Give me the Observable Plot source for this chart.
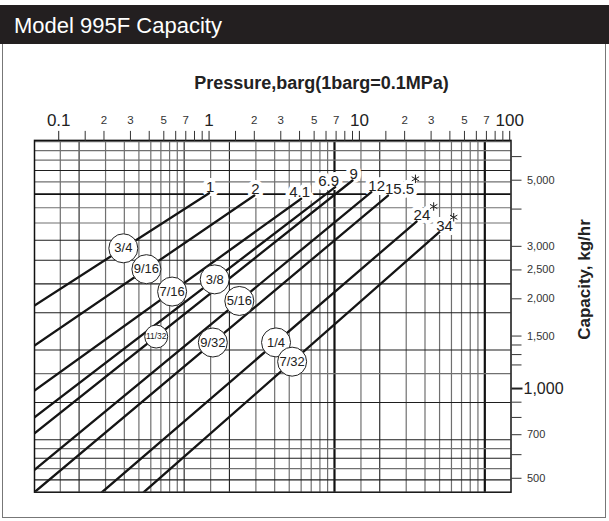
<!DOCTYPE html>
<html><head><meta charset="utf-8">
<script src="https://cdn.jsdelivr.net/npm/d3@7"></script>
<script src="https://cdn.jsdelivr.net/npm/@observablehq/plot@0.6"></script>
<style>
body{margin:0;background:#fff;font-family:"Liberation Sans",Arial,sans-serif;}
#title{position:absolute;left:0;top:5px;width:609px;height:39px;background:#231f20;color:#fff;font-size:22px;line-height:39px;padding-left:14px;padding-top:1px;box-sizing:border-box;}
#box{position:absolute;left:2px;top:44px;width:604px;height:474px;border:1px solid #777;border-top:none;box-sizing:border-box;}
#chart{position:absolute;left:0;top:44px;}
</style></head><body>
<div id="title">Model 995F Capacity</div>
<div id="box"></div>
<div id="chart"></div>
<script>
// ---- data ----
const sizes  = ["3/4","9/16","7/16","3/8","11/32","5/16","9/32","1/4","7/32"];
const maxP   = [1, 2, 4.1, 6.9, 9, 12, 15.5, 24, 34];           // barg, upper end of each line
const maxLabels = ["1","2","4.1","6.9","9","12","15.5","24","34"];
const endC   = [4523, 4442, 4331, 4737, 4989, 4557, 4442, 3634, 3346]; // kg/hr at upper end
const startP = [0.069, 0.069, 0.069, 0.069, 0.069, 0.069, 0.069, 0.194, 0.368];
const startC = [1900, 1394, 985, 801, 708, 534, 449, 449, 449];
const circleP = [0.269, 0.383, 0.568, 1.09, 0.445, 1.59, 1.06, 2.79, 3.57]; // where size tags sit
const starP = [23.6, 31.2, 42.4];
const starC = [5053, 4081, 3756];

const topMajorTicks = [0.1, 1, 10, 100];
const topMajorLabels = ["0.1", "1", "10", "100"];
const topMinorTicks = [0.2, 0.3, 0.5, 0.7, 2, 3, 5, 7, 20, 30, 50, 70];
const topMinorLabels = ["2","3","5","7","2","3","5","7","2","3","5","7"];
const topBareTicks = [0.15, 0.4, 0.6, 0.8, 0.9, 1.5, 4, 6, 8, 9, 15, 40, 60, 80, 90];

const rightTicks = [5000, 3000, 2500, 2000, 1500, 700, 500];
const rightLabels = ["5,000","3,000","2,500","2,000","1,500","700","500"];
const rightBigTick = [1000];
const rightBigLabel = ["1,000"];
const rightBareTicks = [6000, 4000, 1400, 1300, 1200, 900, 800, 600];

const gridBaseX = 0.0683;
const gridMultX = [1, 1.5, 2, 3, 4, 5, 6, 7, 8, 9];
const gridBaseY = 449;
const gridMultY = [1.1, 1.2, 1.3, 1.4, 1.5, 2, 2.5, 3, 4, 5, 6, 7, 8, 9, 10, 11, 12, 13, 14, 15];

// ---- derived tables ----
const lineRows = sizes.flatMap((s, i) => [
  {size: s, P: startP[i], C: startC[i]},
  {size: s, P: maxP[i], C: endC[i]}
]);
function capAt(i, p) {
  const t = (Math.log(p) - Math.log(startP[i])) / (Math.log(maxP[i]) - Math.log(startP[i]));
  return Math.exp(Math.log(startC[i]) + t * (Math.log(endC[i]) - Math.log(startC[i])));
}
const circleRows = sizes.map((s, i) => ({size: s, P: circleP[i], C: capAt(i, circleP[i])}));
const endRows = sizes.map((s, i) => ({label: maxLabels[i], P: maxP[i], C: endC[i]}));
const starRows = starP.map((p, i) => ({P: p, C: starC[i]}));
const minorLabelRows = topMinorTicks.map((t, i) => ({P: t, label: topMinorLabels[i]}));

const xDomain = [0.069, 102], yDomain = [449, 6800];
const gridX = [];
for (let k = 0; k < 4; k++) for (const m of gridMultX) {
  const v = gridBaseX * Math.pow(10, k) * m;
  if (v > xDomain[0] * 1.002 && v < xDomain[1]) gridX.push({v, m, k});
}
const gridY = gridMultY.map(m => ({v: gridBaseY * m, m}));
const darkY = [1.1, 1.3, 1.5, 2, 3, 4, 5, 6, 7, 12];

const fmtMap = (ticks, labels) => { const M = new Map(ticks.map((t, i) => [t, labels[i]])); return d => M.get(d) ?? ""; };

const font = "Liberation Sans, Arial, sans-serif";
const nudge = {"4.1": -12, "6.9": -17};
const labelMark = (rows, dx, opts) => Plot.text(rows, {x: "P", y: "C", text: "label", textAnchor: "start", lineAnchor: "bottom", dx, dy: -1.5, fontSize: 15, ...opts});
const defRows = endRows.filter(d => !(d.label in nudge));
const labelMarks = (opts) => [
  labelMark(defRows, -3, opts),
  ...Object.keys(nudge).map(k => labelMark(endRows.filter(d => d.label === k), nudge[k], opts))
];

const plot = Plot.plot({
  width: 609, height: 477,
  marginTop: 95.9, marginBottom: 29.3, marginLeft: 34, marginRight: 98.5,
  style: {background: "transparent", fontFamily: font, overflow: "visible"},
  x: {type: "log", domain: xDomain},
  y: {type: "log", domain: yDomain},
  marks: [
    Plot.ruleX(gridX.filter(d => !(d.m === 1 || d.m === 2)), {x: "v", stroke: "#707070", strokeWidth: 1.2}),
    Plot.ruleX(gridX.filter(d => (d.m === 1 && d.k < 2) || d.m === 2), {x: "v", stroke: "#1e1e1e", strokeWidth: 1.1}),
    Plot.ruleX(gridX.filter(d => d.m === 1 && d.k >= 2), {x: "v", stroke: "#111", strokeWidth: 2.2}),
    Plot.ruleY(gridY.filter(d => !darkY.includes(d.m) && d.m !== 10), {y: "v", stroke: "#707070", strokeWidth: 1.2}),
    Plot.ruleY(gridY.filter(d => darkY.includes(d.m)), {y: "v", stroke: "#1e1e1e", strokeWidth: 1.1}),
    Plot.ruleY(gridY.filter(d => d.m === 10), {y: "v", stroke: "#111", strokeWidth: 1.8}),
    ...labelMarks({fill: "white", stroke: "white", strokeWidth: 8, strokeLinejoin: "round"}),
    Plot.line(lineRows, {x: "P", y: "C", z: "size", stroke: "#151515", strokeWidth: 2.3, clip: true}),
    Plot.dot(circleRows.filter(d => d.size !== "11/32"), {x: "P", y: "C", r: 14.5, fill: "white", stroke: "#222", strokeWidth: 1}),
    Plot.dot(circleRows.filter(d => d.size === "11/32"), {x: "P", y: "C", r: 11.5, fill: "white", stroke: "#222", strokeWidth: 1}),
    Plot.text(circleRows.filter(d => d.size !== "11/32"), {x: "P", y: "C", text: "size", fontSize: 13, fill: "#222"}),
    Plot.text(circleRows.filter(d => d.size === "11/32"), {x: "P", y: "C", text: "size", fontSize: 8.5, fill: "#222"}),
    ...labelMarks({fill: "#222"}),
    Plot.dot(starRows, {x: "P", y: "C", symbol: "asterisk", r: 4, stroke: "#222", strokeWidth: 1}),
    Plot.frame({stroke: "#111", strokeWidth: 1.5}),
    Plot.axisX({anchor: "top", ticks: topMajorTicks, tickFormat: fmtMap(topMajorTicks, topMajorLabels), tickSize: 10, tickPadding: 4, fontSize: 17, color: "#222", label: null}),
    Plot.axisX({anchor: "top", ticks: topMinorTicks, tickFormat: () => "", tickSize: 10, color: "#333", label: null}),
    Plot.axisX({anchor: "top", ticks: topBareTicks, tickFormat: () => "", tickSize: 10, color: "#333", label: null}),
    Plot.text(minorLabelRows, {x: "P", frameAnchor: "top", text: "label", lineAnchor: "bottom", dy: -16.5, fontSize: 11.5, fill: "#333"}),
    Plot.axisY({anchor: "right", ticks: rightTicks, tickFormat: fmtMap(rightTicks, rightLabels), tickSize: 10, tickPadding: 6, fontSize: 11, color: "#333", label: null}),
    Plot.axisY({anchor: "right", ticks: rightBigTick, tickFormat: fmtMap(rightBigTick, rightBigLabel), tickSize: 11, tickPadding: 1.5, fontSize: 16, strokeWidth: 2, color: "#222", label: null}),
    Plot.axisY({anchor: "right", ticks: rightBareTicks, tickFormat: () => "", tickSize: 10, color: "#333", label: null}),
    Plot.text(["Pressure,barg(1barg=0.1MPa)"], {frameAnchor: "top", dx: 48.75, dy: -51.9, lineAnchor: "bottom", fontSize: 18, fontWeight: "bold", fill: "#222"}),
    Plot.text(["Capacity, kg/hr"], {frameAnchor: "right", rotate: -90, textAnchor: "middle", lineAnchor: "middle", dx: 73.5, dy: -36.8, fontSize: 17, fontWeight: "bold", fill: "#222"})
  ]
});
document.getElementById("chart").appendChild(plot);
</script>
</body></html>
